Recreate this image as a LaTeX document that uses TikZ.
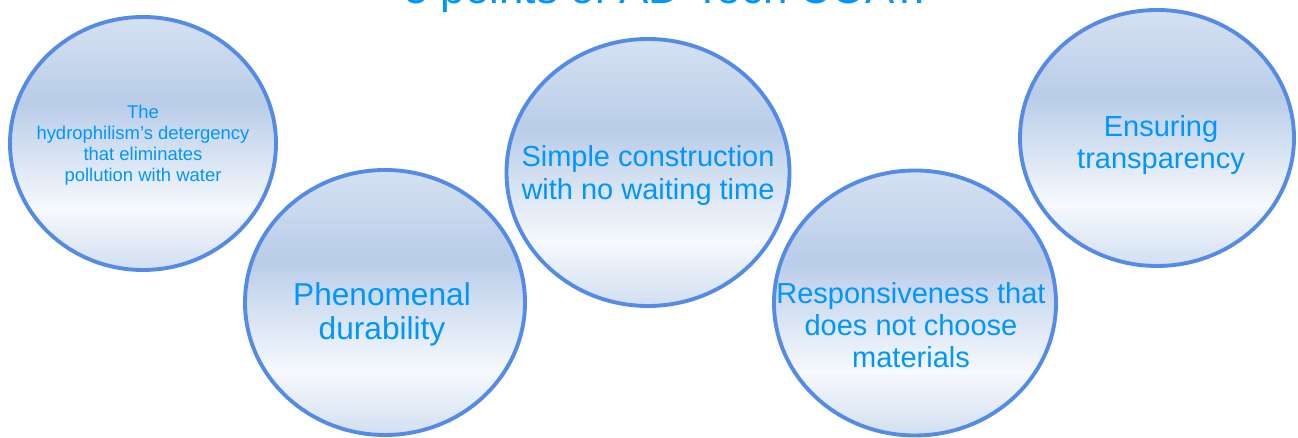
\documentclass[tikz,border=0pt]{standalone}
\usepackage{fontspec}
\setmainfont{Liberation Sans}
\usetikzlibrary{shapes.geometric}

\definecolor{pointblue}{RGB}{0,150,255}
\definecolor{ringblue}{RGB}{84,139,232}
\definecolor{shtop}{RGB}{213,225,242}
\definecolor{shmid}{RGB}{185,205,232}
\definecolor{shwhite}{RGB}{246,249,253}
\definecolor{shbot}{RGB}{210,223,241}
\pgfdeclareverticalshading{bubble}{100bp}{color(0bp)=(shbot); color(25bp)=(shbot); color(37bp)=(shwhite); color(58bp)=(shmid); color(75bp)=(shtop); color(100bp)=(shtop)}

\begin{document}
\begin{tikzpicture}[point node/.style={ellipse,draw=ringblue,line width=2.2pt,shade,shading=bubble,inner sep=0pt}, point text/.style={text=pointblue,align=center,font=\fontsize{16.5}{18.3}\selectfont}, title text/.style={text=pointblue,font=\fontsize{25}{30}\selectfont}]

  \useasboundingbox (0,0) rectangle (25.96,8.76);

  \node[title text,anchor=base] (title) at (13.3,8.68) {5 points of AD-Tech COAT.};

  \node[point node,minimum width=5.32cm,minimum height=5.06cm] (c1) at (2.86,5.89) {};
  \node[point node,minimum width=5.60cm,minimum height=5.30cm] (c2) at (7.70,2.71) {};
  \node[point node,minimum width=5.66cm,minimum height=5.34cm] (c3) at (12.96,5.31) {};
  \node[point node,minimum width=5.64cm,minimum height=5.30cm] (c4) at (18.30,2.70) {};
  \node[point node,minimum width=5.48cm,minimum height=5.12cm] (c5) at (23.14,6.00) {};

  \node[point text,font=\fontsize{10.5}{11.9}\selectfont] (t1) at ([yshift=-0.03cm]c1.center) {The\\hydrophilism’s detergency\\that eliminates\\pollution with water};
  \node[point text,font=\fontsize{18}{19.4}\selectfont] (t2) at ([xshift=-0.06cm,yshift=-0.23cm]c2.center) {Phenomenal\\durability};
  \node[point text] (t3) at ([yshift=-0.06cm]c3.center) {Simple construction\\with no waiting time};
  \node[point text] (t4) at ([xshift=-0.08cm,yshift=-0.44cm]c4.center) {Responsiveness that\\does not choose\\materials};
  \node[point text] (t5) at ([xshift=0.08cm,yshift=-0.14cm]c5.center) {Ensuring\\transparency};
\end{tikzpicture}
\end{document}
